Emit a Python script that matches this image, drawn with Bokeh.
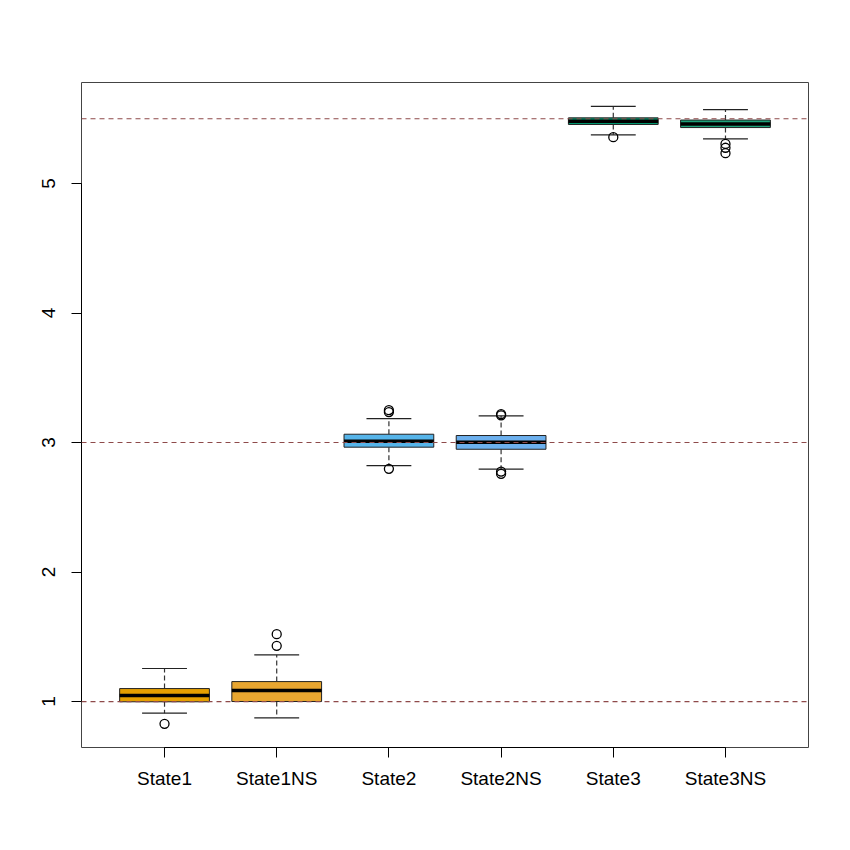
from bokeh.plotting import figure
from bokeh.models import Range1d, FixedTicker, Span, ColumnDataSource
from bokeh.embed import file_html
from bokeh.resources import INLINE

categories = ["State1", "State1NS", "State2", "State2NS", "State3", "State3NS"]
lower_whisker = [0.91, 0.874, 2.822, 2.794, 5.376, 5.345]
q1 = [0.998, 1.0, 2.964, 2.948, 5.456, 5.432]
median = [1.046, 1.085, 3.01, 3.003, 5.48, 5.46]
q3 = [1.10, 1.154, 3.064, 3.054, 5.507, 5.49]
upper_whisker = [1.255, 1.36, 3.185, 3.206, 5.595, 5.571]
outliers = [[0.828], [1.43, 1.52], [2.797, 3.235, 3.25], [2.758, 2.776, 3.21, 3.22], [5.358], [5.234, 5.276, 5.306]]
box_colors = ["#E69F00", "#E8A630", "#56B4E9", "#6CB0EE", "#009E73", "#1EA27A"]
reference_levels = [1, 3, 5.5]
y_ticks = [1, 2, 3, 4, 5]

positions = list(range(1, len(categories) + 1))
box_w = 0.8
cap_w = 0.4

src = ColumnDataSource(dict(
    x=positions, lw=lower_whisker, q1=q1, med=median, q3=q3, uw=upper_whisker,
    color=box_colors,
    xl=[x - box_w / 2 for x in positions], xr=[x + box_w / 2 for x in positions],
    cl=[x - cap_w / 2 for x in positions], cr=[x + cap_w / 2 for x in positions],
))

p = figure(width=834, height=834, output_backend="svg", toolbar_location=None,
           x_range=Range1d(0.26, 6.74), y_range=Range1d(0.645, 5.78),
           min_border_left=81, min_border_top=82, min_border_right=26, min_border_bottom=87)
p.xgrid.visible = False
p.ygrid.visible = False
p.outline_line_color = "#444444"
p.outline_line_width = 1
p.background_fill_color = "white"
p.border_fill_color = "white"

# whiskers (dashed)
p.segment(x0="x", y0="q3", x1="x", y1="uw", source=src, line_color="#333333", line_dash="5 3", line_width=1.2)
p.segment(x0="x", y0="q1", x1="x", y1="lw", source=src, line_color="#333333", line_dash="5 3", line_width=1.2)
# caps
p.segment(x0="cl", y0="uw", x1="cr", y1="uw", source=src, line_color="#222222", line_width=1.2)
p.segment(x0="cl", y0="lw", x1="cr", y1="lw", source=src, line_color="#222222", line_width=1.2)
# boxes
p.vbar(x="x", width=box_w, top="q3", bottom="q1", source=src, fill_color="color",
       line_color="#222222", line_width=1)
# medians
p.segment(x0="xl", y0="med", x1="xr", y1="med", source=src, line_color="black", line_width=3.5)

# outliers
ox, oy = [], []
for x, vals in zip(positions, outliers):
    for v in vals:
        ox.append(x)
        oy.append(v)
p.scatter(ox, oy, size=9, marker="circle", fill_color=None, line_color="black", line_width=1.3)

for lvl in reference_levels:
    p.add_layout(Span(location=lvl, dimension="width", line_color="#8E4A4A", line_dash="5 4", line_width=1.2))

font = "Liberation Sans"
p.xaxis.ticker = FixedTicker(ticks=positions)
p.xaxis.major_label_overrides = {x: c for x, c in zip(positions, categories)}
p.xaxis.bounds = (positions[0], positions[-1])
p.yaxis.ticker = FixedTicker(ticks=y_ticks)
p.yaxis.bounds = (y_ticks[0], y_ticks[-1])
p.yaxis.major_label_orientation = "vertical"
for ax in (p.xaxis, p.yaxis):
    ax.major_label_text_font = font
    ax.major_label_text_font_size = "19px"
    ax.major_label_text_color = "black"
    ax.axis_line_color = "black"
    ax.major_tick_line_color = "black"
    ax.major_tick_out = 10
    ax.major_tick_in = 0
    ax.minor_tick_out = 0
    ax.minor_tick_in = 0
p.xaxis.major_label_standoff = 10
p.yaxis.major_label_standoff = 16

open("out.html", "w").write(file_html(p, INLINE))
